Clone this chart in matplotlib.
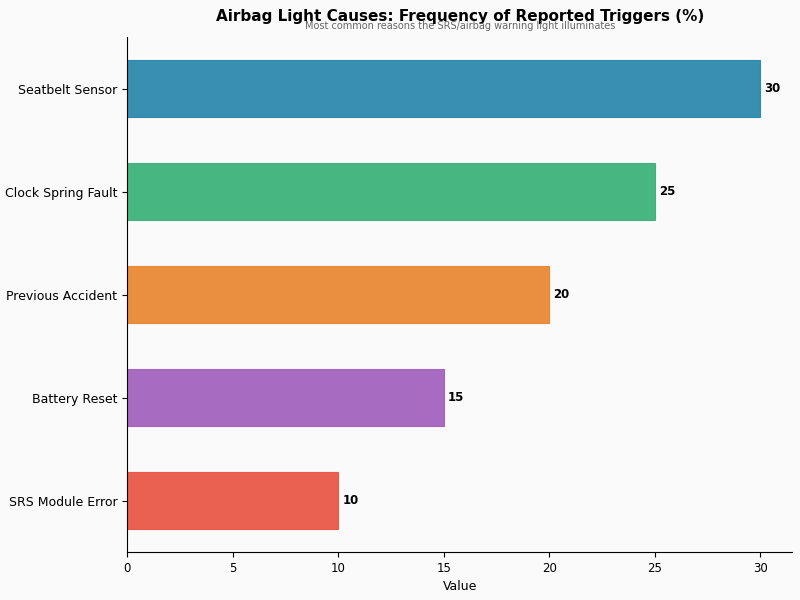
import matplotlib.pyplot as plt
import numpy as np

causes = ["SRS Module Error", "Battery Reset", "Previous Accident", "Clock Spring Fault", "Seatbelt Sensor"]
values = [10, 15, 20, 25, 30]
colors = ["#E94F3F", "#9E5DBB", "#E8832A", "#35AF74", "#2383A8"]

fig = plt.figure(figsize=(8, 6), dpi=100, facecolor="#fafafa")
ax = fig.add_axes([0.159, 0.08, 0.831, 0.858])
ax.set_facecolor("#fafafa")

y = np.arange(len(causes))
ax.barh(y, values, height=0.55, color=colors, alpha=0.9, edgecolor=colors, linewidth=0.8)
for yi, v in zip(y, values):
    ax.text(v + 0.2, yi, f"{v}", va="center", ha="left", fontsize=8.5, fontweight="bold")

ax.set_yticks(y)
ax.set_yticklabels(causes, fontsize=9)
ax.set_xlim(0, 31.5)
ax.set_ylim(-0.5, 4.5)
ax.tick_params(axis="x", labelsize=8.5)
ax.set_xlabel("Value", fontsize=9)
ax.spines["top"].set_visible(False)
ax.spines["right"].set_visible(False)

fig.text(0.575, 0.973, "Airbag Light Causes: Frequency of Reported Triggers (%)",
         ha="center", va="center", fontsize=11, fontweight="bold")
fig.text(0.575, 0.957, "Most common reasons the SRS/airbag warning light illuminates",
         ha="center", va="center", fontsize=7, color="#666666")

fig.savefig("out.png", dpi=100, facecolor=fig.get_facecolor())
